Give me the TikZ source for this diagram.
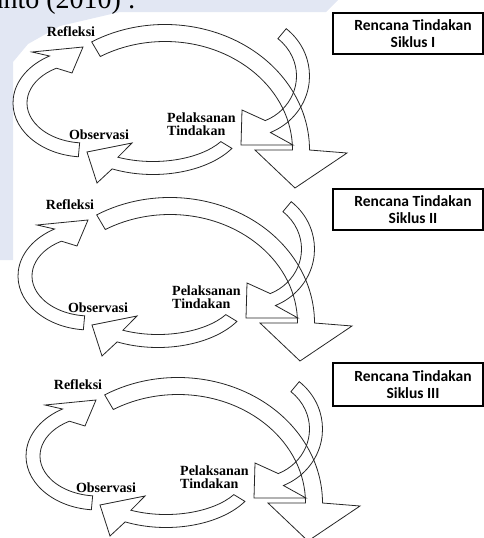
\documentclass[tikz,border=0pt]{standalone}
\usepackage{fontspec}
\setmainfont{Liberation Serif}
\newfontfamily\planfont{Carlito}
\definecolor{wmark}{RGB}{226,231,243}

\tikzset{
  band/.style={draw=black!85, line width=0.8pt, line join=miter},
  lbl/.style={font=\fontsize{14}{13}\selectfont\bfseries, inner sep=0pt},
  planlbl/.style={font=\planfont\bfseries\fontsize{15.5}{17}\selectfont, align=center, inner sep=0pt},
  planframe/.style={draw=black, line width=1.2pt},
}

% one cycle: #1,#2 shift of the arrows, #3 shift of the left labels, #4 tag
\newcommand{\siklus}[4]{%
  \begin{scope}[shift={(#1,#2)}]
    % big arc from Refleksi down to the next plan
    \draw[band] (91.67,41.87)
      arc[start angle=-120.5, end angle=0, x radius=144.5, y radius=125.5]
      -- (347,153) -- (295,188) -- (255,150) -- (292.5,150)
      arc[start angle=0, end angle=-120.5, x radius=127.5, y radius=108.5] -- cycle;
    % arrow from the plan down to Pelaksanan
    \draw[band] (286.20,28.68)
      arc[start angle=-50.3, end angle=66.8, x radius=64.5, y radius=61.5]
      -- (293,145) -- (241,145) -- (242,110) -- (265.29,120.58)
      arc[start angle=66.8, end angle=-50.3, x radius=51.5, y radius=48.5] -- cycle;
    % arrow from Pelaksanan to Observasi
    \draw[band] (231.95,148.39)
      arc[start angle=31.4, end angle=116.2, x radius=92.5, y radius=54.5]
      -- (97,183) -- (87,152) -- (132,143) -- (117.90,157.24)
      arc[start angle=116.2, end angle=31.4, x radius=79.5, y radius=41.5] -- cycle;
    % arrow from Observasi up to Refleksi
    \draw[band] (78.35,156.77)
      arc[start angle=95.3, end angle=240.5, x radius=72, y radius=54]
      -- (32,52) -- (83,47) -- (72,73) -- (56.44,68.19)
      arc[start angle=240.5, end angle=95.3, x radius=58, y radius=40] -- cycle;
    \node[lbl, anchor=west, align=left] (pel#4) at (167,124) {Pelaksanan\\Tindakan};
  \end{scope}
  \begin{scope}[shift={(#3,#2)}]
    \node[lbl] (refl#4) at (71,31.5) {Refleksi};
    \node[lbl] (obs#4) at (99,135) {Observasi};
  \end{scope}
}

\begin{document}
\begin{tikzpicture}[x=1pt,y=-1pt]
  \useasboundingbox (0,0) rectangle (484,538);
  \clip (0,0) rectangle (484,538);

  % faint watermark
  \fill[wmark] (0,0) -- (338,0) -- (326,12) -- (120,12) -- (60,26)
    -- (28,44) -- (13,62) -- (13,260) -- (0,260) -- cycle;

  % cut off source line
  \node[font=\fontsize{28}{28}\selectfont, anchor=base west, inner sep=0pt]
    (sumber) at (-62,8.5) {Arikunto (2010) :};

  % three cycles
  \siklus{0}{0}{0}{1}
  \siklus{5}{173}{-1}{2}
  \siklus{13}{353}{7}{3}

  % plans
  \node[planlbl] (plan1) at (413,33.5) {Rencana Tindakan\\Siklus I};
  \draw[planframe] (333,13) rectangle (483,54);
  \node[planlbl] (plan2) at (413,209.5) {Rencana Tindakan\\Siklus II};
  \draw[planframe] (333,189) rectangle (483,230);
  \node[planlbl] (plan3) at (413,384.5) {Rencana Tindakan\\Siklus III};
  \draw[planframe] (333,363) rectangle (483,406);
\end{tikzpicture}
\end{document}
